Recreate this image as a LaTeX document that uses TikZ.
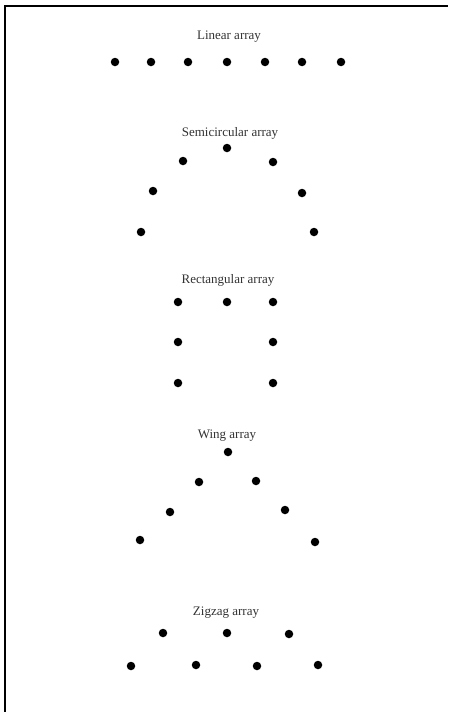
\documentclass[tikz,border=0pt]{standalone}
\usepackage{fontspec}
\setmainfont{Liberation Serif}
\begin{document}
\begin{tikzpicture}[x=1pt,y=-1pt,
  dot/.style={circle,fill=black,inner sep=0pt,minimum size=8.5pt},
  lbl/.style={text=black!80,font=\fontsize{13}{15}\selectfont,inner sep=0pt}]
\useasboundingbox (0,0) rectangle (448,712);
\fill[white] (0,0) rectangle (448,712);
\coordinate (tl) at (5,6);
\coordinate (tr) at (448,6);
\coordinate (bl) at (5,712);
\draw[line width=1.2pt] (bl) -- (tl) -- (tr);
% Linear
\node[lbl] (l0) at (229,37) {Linear array};
\foreach \x [count=\i] in {115,151,188,227,265,302,341}
  \node[dot] (l\i) at (\x,62) {};
% Semicircular
\node[lbl] (s0) at (230,133) {Semicircular array};
\node[dot] (s1) at (227,148) {};
\node[dot] (s2) at (183,161) {};
\node[dot] (s3) at (273,162) {};
\node[dot] (s4) at (153,191) {};
\node[dot] (s5) at (302,193) {};
\node[dot] (s6) at (141,232) {};
\node[dot] (s7) at (314,232) {};
% Rectangular
\node[lbl] (r0) at (228,280) {Rectangular array};
\node[dot] (r1) at (178,302) {};
\node[dot] (r2) at (227,302) {};
\node[dot] (r3) at (273,302) {};
\node[dot] (r4) at (178,342) {};
\node[dot] (r5) at (273,342) {};
\node[dot] (r6) at (178,383) {};
\node[dot] (r7) at (273,383) {};
% Wing
\node[lbl] (w0) at (227,436) {Wing array};
\node[dot] (w1) at (228,452) {};
\node[dot] (w2) at (199,482) {};
\node[dot] (w3) at (256,481) {};
\node[dot] (w4) at (170,512) {};
\node[dot] (w5) at (285,510) {};
\node[dot] (w6) at (140,540) {};
\node[dot] (w7) at (315,542) {};
% Zigzag
\node[lbl] (z0) at (226,613) {Zigzag array};
\node[dot] (z1) at (163,633) {};
\node[dot] (z2) at (227,633) {};
\node[dot] (z3) at (289,634) {};
\node[dot] (z4) at (131,666) {};
\node[dot] (z5) at (196,665) {};
\node[dot] (z6) at (257,666) {};
\node[dot] (z7) at (318,665) {};
\end{tikzpicture}
\end{document}
